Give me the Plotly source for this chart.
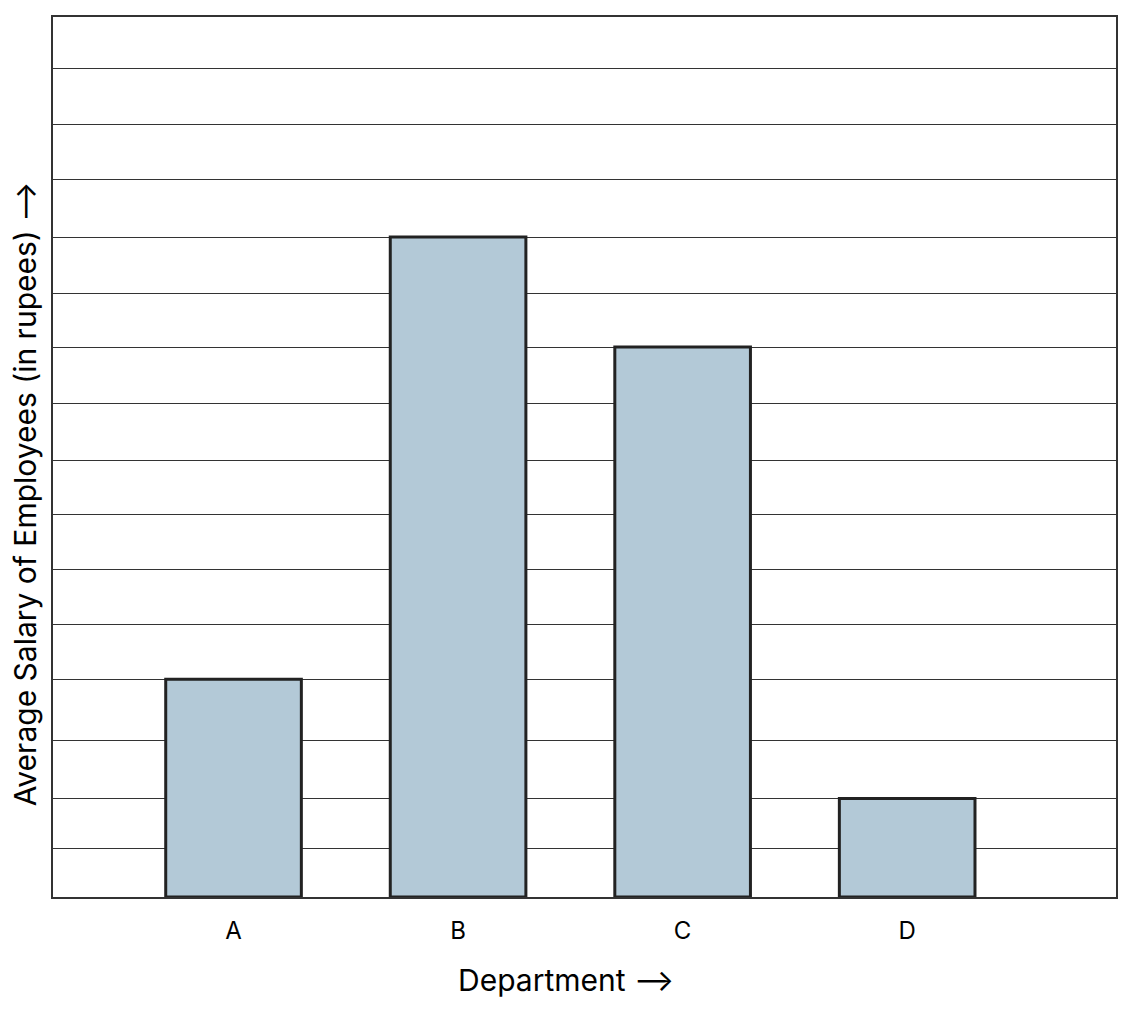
import plotly.graph_objects as go

departments = ["A", "B", "C", "D"]
avg_salary = [3.96, 12.0, 10.0, 1.79]

# gridlines in the source are not evenly spaced
grid_vals = [0.89, 1.79, 2.84, 3.96, 4.96, 5.96, 6.96, 7.93, 8.98,
             10.0, 10.98, 11.99, 13.04, 14.04, 15.06]

fig = go.Figure()

fig.add_trace(go.Bar(
    x=departments,
    y=avg_salary,
    width=0.604,
    marker=dict(color="#b3c9d7", line=dict(color="#222222", width=3)),
))

# page body has an 8px margin, so the figure is sized to fit the window
fig.update_layout(
    width=1112,
    height=993,
    margin=dict(l=45, r=2, t=9, b=104),
    plot_bgcolor="white",
    paper_bgcolor="white",
    font=dict(family="Inter", color="black"),
    showlegend=False,
    xaxis=dict(
        range=[-0.804, 3.93],
        showgrid=False,
        showline=True, mirror=True, linecolor="#333333", linewidth=1.5,
        ticks="outside", ticklen=11, tickcolor="rgba(0,0,0,0)",
        tickfont=dict(size=24),
    ),
    yaxis=dict(
        range=[0, 16],
        tickvals=grid_vals,
        showticklabels=False,
        showgrid=True, gridcolor="#333333", gridwidth=1.4,
        zeroline=False,
        showline=True, mirror=True, linecolor="#333333", linewidth=1.5,
    ),
    # axis titles as annotations, they sit a little off centre in the source
    annotations=[
        dict(text="Department \u27f6", x=0.483, y=-0.094,
             xref="paper", yref="paper", showarrow=False,
             xanchor="center", yanchor="middle", font=dict(size=30)),
        dict(text="Average Salary of Employees (in rupees) \u27f6",
             x=-0.026, y=0.458, xref="paper", yref="paper", showarrow=False,
             textangle=-90, xanchor="center", yanchor="middle",
             font=dict(size=30)),
    ],
)

fig.write_html("out.html")
